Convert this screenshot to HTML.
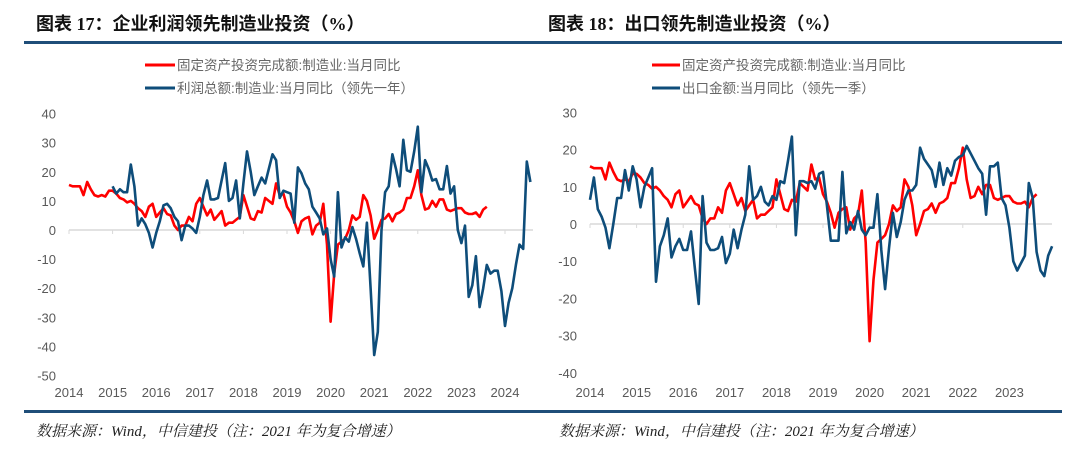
<!DOCTYPE html>
<html><head><meta charset="utf-8">
<style>
body{margin:0;background:#fff;width:1080px;height:454px;overflow:hidden;font-family:"Liberation Sans","Noto Sans CJK SC",sans-serif;}
svg{position:absolute;left:0;top:0;}
</style></head>
<body>
<svg id="chart" width="1080" height="454">
  <text x="36" y="30" font-size="18" font-weight="bold" fill="#111" font-family="Liberation Serif, Noto Sans CJK SC, serif">图表 17：企业利润领先制造业投资（%）</text>
  <text x="548" y="30" font-size="18" font-weight="bold" fill="#111" font-family="Liberation Serif, Noto Sans CJK SC, serif">图表 18：出口领先制造业投资（%）</text>
  <rect x="24" y="41" width="1038" height="3" fill="#1f4e79"/>
  <rect x="24" y="410" width="1038" height="3" fill="#1f4e79"/>
  <text x="36" y="436" font-size="15" font-style="italic" fill="#222" font-family="Liberation Serif, Noto Serif CJK SC, serif">数据来源：Wind，中信建投（注：2021 年为复合增速）</text>
  <text x="559" y="436" font-size="15" font-style="italic" fill="#222" font-family="Liberation Serif, Noto Serif CJK SC, serif">数据来源：Wind，中信建投（注：2021 年为复合增速）</text>

  <g>
    <line x1="145" y1="65" x2="175" y2="65" stroke="#ff0000" stroke-width="3"/>
    <text x="177" y="70" font-size="13.5" fill="#666">固定资产投资完成额:制造业:当月同比</text>
    <line x1="145" y1="88" x2="175" y2="88" stroke="#0e4d7a" stroke-width="3"/>
    <text x="177" y="93" font-size="13.5" fill="#666">利润总额:制造业:当月同比（领先一年）</text>
  </g>
  <g>
    <line x1="652" y1="65" x2="680" y2="65" stroke="#ff0000" stroke-width="3"/>
    <text x="682" y="70" font-size="13.5" fill="#666">固定资产投资完成额:制造业:当月同比</text>
    <line x1="652" y1="88" x2="680" y2="88" stroke="#0e4d7a" stroke-width="3"/>
    <text x="682" y="93" font-size="13.5" fill="#666">出口金额:当月同比（领先一季）</text>
  </g>
  <g id="left"></g>
  <g id="right"></g>
</svg>
<script>
const years = [2014,2015,2016,2017,2018,2019,2020,2021,2022,2023,2024];
const leftTicks = [40,30,20,10,0,-10,-20,-30,-40,-50];
const rightTicks = [30,20,10,0,-10,-20,-30,-40];
const faiValues = [15.5,15,15,15,12,16.5,14,12,11.5,12,11.5,13.5,
13.5,12.5,11,10.5,9.5,10,9,7.5,6.5,4.5,8,9,
4.5,6,7.5,5.5,5,1.5,0,1.5,1.5,4.5,3,9,
11,8,5,7,3.5,5,6.5,1.5,2.5,2.5,3.5,4.5,
12,8,4,3.5,6.5,6,11,10,9,16,12,12.5,
8,6,3,-1,3,4,4.5,-1.5,1.5,2.5,9,-5,
-31.5,-15,-5,-4,-3,0,5,3.5,4.5,12,10,5,
-3,0,3.5,4,5.5,3,5.5,6,7,11,11,15,
20.5,12,7,7.5,10,8,10.5,10.5,7,6.5,7,7.5,
7.5,6,5.5,5.5,6,4.5,7,8];
const profitValues = [15,12.5,14,13,13,22.5,15,1.5,4,2,
-1,-6,-1,3,8.5,9,7.5,4.5,3,-3.5,
1.5,1.5,0.5,-1,4.5,12,17,10.5,10.5,11,
17,23,10,11,17,4,16,27,20,12,
15,18,16,21,26,24,11,13.5,13,12.5,
2.5,21.5,19.5,16,14,8,6,4,-1.5,0.5,
-10,-16,13,-6,-2.5,-4,1,-3,-8,-12.5,
2.5,-20,-43,-35,0,13,15,26,21,15,
31,20.5,20,27,35.5,13,24,21,17,17.5,
14,14,22,12.5,15,0,-4.5,1.5,-23,-19,
-9,-26.5,-20,-12,-15,-14,-14,-21,-33,-25,
-20,-12,-5,-6.5,23.5,16.5];
const exportValues = [6.5,12.5,4,2,-1,-6.5,0,7,7,14.5,9,15.5,
12,4.5,10,12.5,15,-15.5,-6,-3,1.5,-9,-6,-4,
-7,-7,-2,-12,-21.5,7.5,-5,-7,-7,-6.5,-3.5,-10.5,
-8,-1.5,-6.5,-1.5,2.5,15.5,6.5,7.5,10,6,5,7.5,
6.5,11.5,11,17,23.5,-3,11.5,11.5,11,11.5,9.5,13.5,
14,5,-4.5,-4.5,-4.5,14,-2.5,0.5,-1.5,3.5,-1.5,-3,
-1,-1,8,-7,-17.5,-6.5,3,-3.5,0.5,6.5,9,9,
10.5,20.5,17.5,16,14.5,10,16.5,10.5,15,13,17,18,
18.5,21,19,17,15,13.5,2.5,15.5,15.5,16.5,7,5,
-1,-10,-12.5,-10.5,-8.5,11,7,-7.5,-12.5,-14,-8.5,-6];

const NS='http://www.w3.org/2000/svg';
function mk(parent,tag,attrs){const e=document.createElementNS(NS,tag);for(const k in attrs)e.setAttribute(k,attrs[k]);parent.appendChild(e);return e;}

function drawChart(g, cfg){
  const xs = t => cfg.x0 + (t-2014)*cfg.yearW;
  const ys = v => cfg.zeroY - v*cfg.unitH;
  const ax = mk(g,'line',{x1:cfg.x0,y1:ys(0),x2:cfg.xEnd,y2:ys(0),stroke:'#d9d9d9','stroke-width':1.5});
  
  
  cfg.years.forEach(yr=>{
    const tk = mk(g,'line',{x1:xs(yr),y1:ys(0),x2:xs(yr),y2:ys(0)+4,stroke:'#d9d9d9','stroke-width':1});
    
    
    const t = mk(g,'text',{x:xs(yr),y:cfg.labelY,'font-size':13,fill:'#595959','text-anchor':'middle'});
    t.textContent = yr;
    
    
  });
  cfg.ticks.forEach(v=>{
    const t = mk(g,'text',{x:cfg.yLabX,y:ys(v)+5,'font-size':13,fill:'#595959','text-anchor':'end'});
    t.textContent = v;
    
    
  });
  cfg.series.forEach(s=>{
    const pts = s.values.map((v,i)=>xs(s.start + i/12).toFixed(1)+','+ys(v).toFixed(1)).join(' ');
    const p = mk(g,'polyline',{points:pts,fill:'none',stroke:s.color,'stroke-width':2.6,'stroke-linejoin':'round'});
    
    
  });
}
drawChart(document.getElementById('left'),{
  x0:69, yearW:43.6, xEnd:533, zeroY:230, unitH:2.91, labelY:397, yLabX:56,
  years:years, ticks:leftTicks,
  series:[{values:faiValues,start:2014,color:'#ff0000',name:'fai-line'},
          {values:profitValues,start:2015,color:'#0e4d7a',name:'profit-line'}]
});
drawChart(document.getElementById('right'),{
  x0:590, yearW:46.6, xEnd:1052, zeroY:224, unitH:3.72, labelY:397, yLabX:577,
  years:years.slice(0,10), ticks:rightTicks,
  series:[{values:faiValues,start:2014,color:'#ff0000',name:'fai-line-right'},
          {values:exportValues,start:2014,color:'#0e4d7a',name:'export-line'}]
});
</script>
</body></html>
